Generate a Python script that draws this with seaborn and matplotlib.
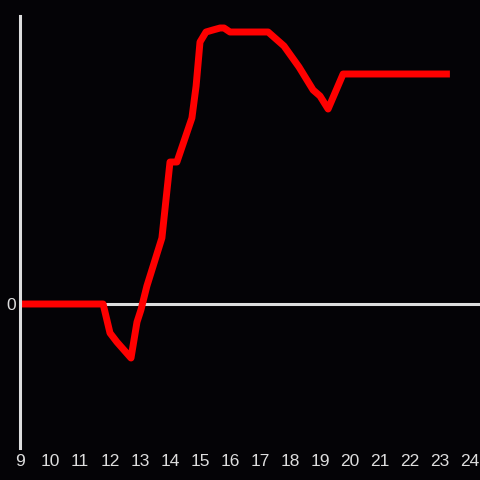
import matplotlib
matplotlib.use("Agg")
import matplotlib.pyplot as plt
import seaborn as sns
import pandas as pd

# data
hours = [9.0, 11.77, 12.0, 12.23, 12.7, 12.9, 13.03, 13.23, 13.73, 14.0, 14.23,
         14.73, 14.87, 15.0, 15.2, 15.43, 15.67, 15.8, 16.0, 17.27, 17.8, 18.3,
         18.77, 19.0, 19.27, 19.77, 23.33]
values = [0.0, 0.0, -2.9, -3.8, -5.4, -1.8, -0.6, 1.8, 6.6, 14.2, 14.2,
          18.6, 21.8, 26.2, 27.2, 27.4, 27.6, 27.6, 27.2, 27.2, 25.8, 23.7,
          21.4, 20.8, 19.5, 23.0, 23.0]
xticks = list(range(9, 25))

bg = "#040306"
fg = "#dddddd"

sns.set_style("dark")
plt.rcParams['font.family'] = ['Liberation Sans', 'DejaVu Sans']

df = pd.DataFrame({"hour": hours, "value": values})

fig = plt.figure(figsize=(4.8, 4.8), dpi=100, facecolor=bg)
ax = fig.add_axes([20 / 480, 32 / 480, 460 / 480, 432 / 480])
ax.set_facecolor(bg)

ax.axhline(0, color=fg, lw=2.2, zorder=1)
sns.lineplot(data=df, x="hour", y="value", color="#ff0000", lw=5, ax=ax, zorder=2,
             solid_capstyle="butt")

ax.set_xlim(9, 24 + 1 / 3)
ax.set_ylim(-14.4, 28.8)
ax.set_xticks(xticks)
ax.set_xticklabels([str(t) for t in xticks])
ax.set_yticks([0])
ax.set_yticklabels(["0"])
ax.tick_params(colors=fg, labelsize=12.5, length=0)
ax.tick_params(axis="y", pad=3)
ax.tick_params(axis="x", pad=4)
ax.set_xlabel("")
ax.set_ylabel("")
ax.grid(False)

for side in ["top", "right", "bottom"]:
    ax.spines[side].set_visible(False)
ax.spines["left"].set_color(fg)
ax.spines["left"].set_linewidth(2.2)
ax.spines["left"].set_zorder(3)

fig.savefig("out.png", dpi=100, facecolor=bg)
